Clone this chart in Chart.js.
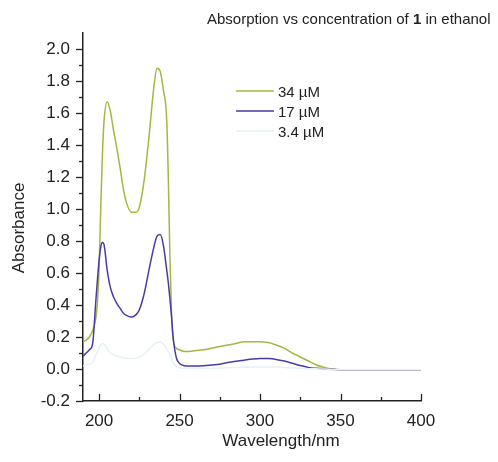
<!DOCTYPE html>
<html>
<head>
<meta charset="utf-8">
<script src="https://cdn.jsdelivr.net/npm/chart.js@4"></script>
<style>
  html, body { margin: 0; padding: 0; background: #fff; }
  #wrap { width: 498px; height: 462px; position: relative; }
</style>
</head>
<body>
<div id="wrap"><canvas id="myChart"></canvas></div>
<script>
'use strict'

// wavelength in nm, shared by all three series
const wavelength = [190,192,194,196,198,199,200,201,202,203,205,207,209,211,213,215,217,220,223,225,228,231,234,236,238,240,242,243,244,245,246,248,250,253,256,260,265,270,275,280,285,290,295,300,305,310,315,320,325,330,335,340,345,350,360,370,380,390,400]

const abs34 = [0.17,0.18,0.20,0.24,0.32,0.42,0.62,1.00,1.32,1.54,1.67,1.61,1.49,1.38,1.26,1.13,1.04,0.98,0.98,1.01,1.18,1.45,1.76,1.88,1.86,1.74,1.56,1.20,0.70,0.35,0.18,0.13,0.12,0.11,0.11,0.115,0.12,0.13,0.14,0.15,0.16,0.17,0.17,0.17,0.165,0.15,0.13,0.10,0.075,0.05,0.025,0.01,0.0,-0.005,-0.005,-0.005,-0.005,-0.005,-0.005]

const abs17 = [0.08,0.10,0.12,0.16,0.43,0.56,0.68,0.76,0.79,0.78,0.62,0.51,0.45,0.41,0.38,0.35,0.335,0.325,0.34,0.37,0.47,0.62,0.76,0.83,0.84,0.77,0.62,0.54,0.44,0.33,0.20,0.07,0.035,0.02,0.018,0.018,0.02,0.025,0.03,0.04,0.048,0.055,0.062,0.066,0.065,0.06,0.05,0.036,0.022,0.01,0.004,0.0,-0.003,-0.005,-0.005,-0.005,-0.005,-0.005,-0.005]

const abs3_4 = [0.02,0.025,0.03,0.04,0.09,0.11,0.13,0.15,0.16,0.157,0.125,0.10,0.09,0.082,0.076,0.07,0.067,0.065,0.068,0.074,0.094,0.124,0.152,0.166,0.168,0.154,0.124,0.108,0.088,0.066,0.04,0.014,0.007,0.004,0.004,0.004,0.004,0.005,0.006,0.008,0.01,0.011,0.012,0.013,0.013,0.012,0.01,0.007,0.004,0.002,0.001,0,-0.004,-0.005,-0.005,-0.005,-0.005,-0.005,-0.005]

const seriesNames = ['34 µM', '17 µM', '3.4 µM']
// the 3.4 µM trace is almost washed out in the original
const seriesColors = ['#aab440', '#4a3aa8', '#e6f1f3']

const xTicks = [200, 250, 300, 350, 400]
const yTicks = [-0.2, 0.0, 0.2, 0.4, 0.6, 0.8, 1.0, 1.2, 1.4, 1.6, 1.8, 2.0]

const toPoints = (arr) => wavelength.map((w, i) => ({ x: w, y: arr[i] }))

const FONT = '"Liberation Sans", Arial, sans-serif'
const INK = '#222'

// title, axis names, legend and tick marks
const decor = {
  id: 'decor',
  afterDraw(chart) {
    const ctx = chart.ctx
    const xs = chart.scales.x
    const ys = chart.scales.y
    const area = chart.chartArea
    ctx.save()
    ctx.strokeStyle = INK
    ctx.lineWidth = 1.3

    // x ticks, pointing up
    for (let v = 200; v <= 400; v += 25) {
      const px = Math.round(xs.getPixelForValue(v)) + 0.5
      const len = v % 50 === 0 ? 7 : 4
      ctx.beginPath()
      ctx.moveTo(px, area.bottom)
      ctx.lineTo(px, area.bottom - len)
      ctx.stroke()
    }
    // y ticks, pointing left
    for (let k = -2; k <= 20; k++) {
      const py = Math.round(ys.getPixelForValue(k / 10)) + 0.5
      const len = k % 2 === 0 ? 7 : 4
      ctx.beginPath()
      ctx.moveTo(area.left, py)
      ctx.lineTo(area.left - len, py)
      ctx.stroke()
    }

    ctx.fillStyle = INK
    ctx.textBaseline = 'alphabetic'

    // title with bold "1"
    const parts = [['Absorption vs concentration of ', 'normal'], ['1', 'bold'], [' in ethanol', 'normal']]
    let tx = 207
    parts.forEach(([txt, w]) => {
      ctx.font = `${w} 15px ${FONT}`
      ctx.textAlign = 'left'
      ctx.fillText(txt, tx, 24)
      tx += ctx.measureText(txt).width
    })

    // axis titles
    ctx.font = `17px ${FONT}`
    ctx.textAlign = 'center'
    ctx.fillText('Wavelength/nm', 281, 446)
    ctx.save()
    ctx.translate(24, 228)
    ctx.rotate(-Math.PI / 2)
    ctx.fillText('Absorbance', 0, 0)
    ctx.restore()

    // legend
    ctx.font = `15px ${FONT}`
    ctx.textAlign = 'left'
    seriesNames.forEach((name, i) => {
      const ly = 91 + i * 20
      ctx.strokeStyle = seriesColors[i]
      ctx.lineWidth = 1.5
      ctx.beginPath()
      ctx.moveTo(236, ly)
      ctx.lineTo(274, ly)
      ctx.stroke()
      ctx.fillText(name, 278, ly + 6)
    })
    ctx.restore()
  }
}

const ctx = document.getElementById('myChart')

new Chart(ctx, {
  type: 'line',
  data: {
    datasets: [abs3_4, abs17, abs34].map((arr, j) => {
      const i = 2 - j
      return {
        label: seriesNames[i],
        data: toPoints(arr),
        borderColor: seriesColors[i],
        borderWidth: 1.5,
        pointRadius: 0,
        cubicInterpolationMode: 'monotone',
        fill: false
      }
    })
  },
  options: {
    responsive: true,
    maintainAspectRatio: false,
    animation: false,
    layout: { padding: { left: 0, right: 77, top: 33, bottom: 0 } },
    plugins: {
      legend: { display: false },
      title: { display: false },
      tooltip: { enabled: false }
    },
    scales: {
      x: {
        type: 'linear',
        min: 190,
        max: 400,
        grid: { display: false, drawTicks: false },
        border: { display: true, color: INK, width: 1.5 },
        afterBuildTicks: (scale) => { scale.ticks = xTicks.map(v => ({ value: v })) },
        afterFit: (scale) => { scale.height = 61 },
        ticks: { color: INK, padding: 10, font: { family: FONT, size: 17 }, maxRotation: 0 }
      },
      y: {
        type: 'linear',
        min: -0.2,
        max: 2.1,
        grid: { display: false, drawTicks: false },
        border: { display: true, color: INK, width: 1.5 },
        afterBuildTicks: (scale) => { scale.ticks = yTicks.map(v => ({ value: v })) },
        afterFit: (scale) => { scale.width = 83 },
        ticks: {
          color: INK,
          padding: 13,
          font: { family: FONT, size: 17 },
          callback: (v) => Number(v).toFixed(1)
        }
      }
    }
  },
  plugins: [decor]
})
</script>
</body>
</html>
